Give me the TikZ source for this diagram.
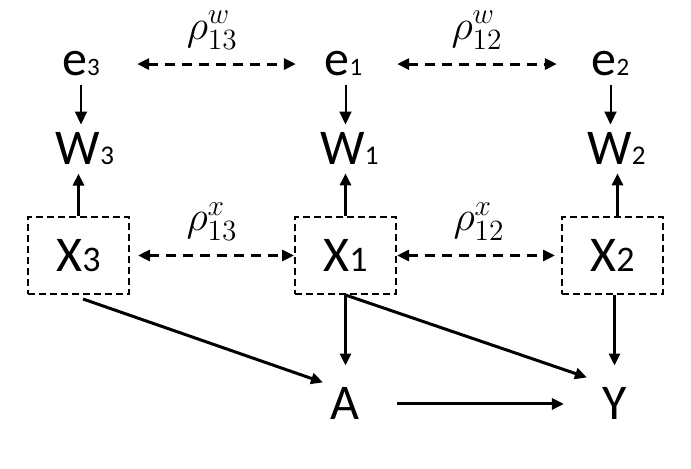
\RequirePackage{fix-cm}
\documentclass[tikz,border=0pt]{standalone}
\usepackage{fontspec}
\setmainfont{Carlito}
\usetikzlibrary{arrows.meta,calc}
\newcommand{\sd}[2]{{\fontsize{#1pt}{#1pt}\selectfont #2}}
\tikzset{
  var/.style={font=\fontsize{25pt}{25pt}\selectfont, inner sep=4pt, anchor=base},
  outcome/.style={var, inner xsep=19pt, inner ysep=11pt},
  covbox/.style={draw, line width=1pt, dash pattern=on 3.5pt off 2pt, minimum width=50.5pt, minimum height=38.5pt, inner sep=0pt, font=\fontsize{25pt}{25pt}\selectfont},
  arr/.style={-{Triangle[length=6pt,width=5.5pt]}, line width=1.5pt},
  thinarr/.style={-{Triangle[length=6.5pt,width=6pt]}, line width=1pt},
  corr/.style={{Triangle[length=6pt,width=5.5pt]}-{Triangle[length=6pt,width=5.5pt]}, line width=1.5pt, dash pattern=on 5pt off 3.5pt},
  rholab/.style={midway, above=6.5pt, inner sep=0pt, font=\fontsize{21pt}{21pt}\selectfont}
}
\begin{document}
\begin{tikzpicture}[x=0.5pt,y=-0.5pt]
\useasboundingbox (0,0) rectangle (691,469);
% errors, measurements, covariates
\node[var] (e3) at (81,76) {e\sd{12.5}{3}};
\node[var] (e1) at (343.5,76) {e\sd{12.5}{1}};
\node[var] (e2) at (610.5,76) {e\sd{12.5}{2}};
\node[var] (W3) at (85,165) {W\sd{13.5}{3}};
\node[var] (W1) at (349.5,165) {W\sd{13.5}{1}};
\node[var] (W2) at (616.5,165) {W\sd{13.5}{2}};
\node[covbox] (X3) at (78.5,255.5) {X\sd{18}{3}};
\node[covbox] (X1) at (345.5,255.5) {X\sd{18}{1}};
\node[covbox] (X2) at (612.5,255.5) {X\sd{18}{2}};
\node[outcome] (A) at (344.5,420) {A};
\node[outcome] (Y) at (614.5,420) {Y};
% e -> W, X -> W
\draw[thinarr] (e3.south) -- (e3.south |- W3.north);
\draw[thinarr] ([xshift=1pt]e1.south) -- ([xshift=1pt]e1.south |- W1.north);
\draw[thinarr] (e2.south) -- (e2.south |- W2.north);
\draw[arr] (X3.north) -- (X3.north |- W3.south);
\draw[arr] (X1.north) -- (X1.north |- W1.south);
\draw[arr] ([xshift=2.5pt]X2.north) -- ([xshift=2.5pt]X2.north |- W2.south);
% correlations
\draw[corr, shorten <=14.5pt, shorten >=10.25pt] (e3.east) -- (e1.west) node[rholab] {$\rho^{w}_{13}$};
\draw[corr, shorten <=13.25pt, shorten >=13.25pt] (e1.east) -- (e2.west) node[rholab] {$\rho^{w}_{12}$};
\draw[corr, shorten <=4pt] (X3.east) -- (X1.west) node[rholab] {$\rho^{x}_{13}$};
\draw[corr, shorten >=3pt] (X1.east) -- (X2.west) node[rholab] {$\rho^{x}_{12}$};
% treatment and outcome
\draw[arr] ([shift={(4.5,4)}]X3.south) -- ($(A.center)+(-21.5,-21.5)$);
\draw[arr] (X1.south) -- (X1.south |- A.north);
\draw[arr] (X1.south) -- ($(Y.center)+(-27.5,-26.5)$);
\draw[arr] (Y.north |- X2.south) -- (Y.north);
\draw[arr] (A.east) -- (Y.west);
\end{tikzpicture}
\end{document}
